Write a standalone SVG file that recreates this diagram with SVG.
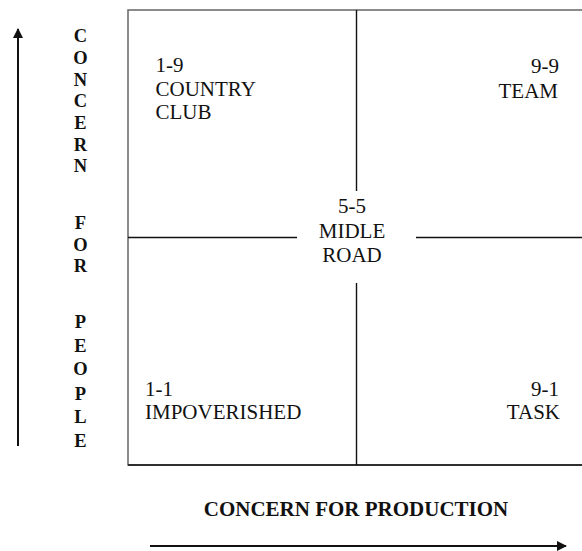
<svg xmlns="http://www.w3.org/2000/svg" width="582" height="551" viewBox="0 0 582 551">
  <style>
    .lbl { font-family: "Liberation Serif", "Times New Roman", serif; font-size: 21px; fill: #111; }
    .axis { font-family: "Liberation Serif", "Times New Roman", serif; font-weight: bold; fill: #111; }
    .frame { fill: none; stroke: #666; stroke-width: 1.5; }
    .div { stroke: #111; stroke-width: 1.4; fill: none; }
    .arrow { stroke: #111; stroke-width: 2; fill: none; }
  </style>
  <defs>
    <marker id="head" viewBox="0 0 10 10" refX="9" refY="5" markerWidth="5" markerHeight="5" orient="auto" markerUnits="strokeWidth">
      <path d="M0,0 L10,5 L0,10 z" fill="#111"/>
    </marker>
  </defs>

  <!-- grid frame and quadrant dividers -->
  <g id="grid">
    <rect class="frame" x="128" y="10" width="470" height="455"/>
    <line x1="128" y1="465" x2="582" y2="465" stroke="#111" stroke-width="1.6"/>
    <line class="div" x1="356.5" y1="10" x2="356.5" y2="191"/>
    <line class="div" x1="356.5" y1="283" x2="356.5" y2="465"/>
    <line class="div" x1="128" y1="237.5" x2="297" y2="237.5"/>
    <line class="div" x1="416" y1="237.5" x2="582" y2="237.5"/>
  </g>

  <!-- axis arrows -->
  <g id="connectors">
    <line class="arrow" x1="18" y1="446" x2="18" y2="29" marker-end="url(#head)"/>
    <line class="arrow" x1="150" y1="546" x2="566" y2="546" marker-end="url(#head)"/>
  </g>

  <g id="country-club">
    <text class="lbl" x="155.5" y="72">1-9</text>
    <text class="lbl" x="155.5" y="95.5">COUNTRY</text>
    <text class="lbl" x="155.5" y="118.5">CLUB</text>
  </g>

  <g id="team">
    <text class="lbl" x="559" y="73" text-anchor="end">9-9</text>
    <text class="lbl" x="558" y="97.5" text-anchor="end">TEAM</text>
  </g>

  <g id="middle-road">
    <text class="lbl" x="352" y="213" text-anchor="middle">5-5</text>
    <text class="lbl" x="352" y="238" text-anchor="middle">MIDLE</text>
    <text class="lbl" x="352" y="262" text-anchor="middle">ROAD</text>
  </g>

  <g id="impoverished">
    <text class="lbl" x="145" y="396">1-1</text>
    <text class="lbl" x="145" y="418.5">IMPOVERISHED</text>
  </g>

  <g id="task">
    <text class="lbl" x="559" y="396" text-anchor="end">9-1</text>
    <text class="lbl" x="560" y="418.5" text-anchor="end">TASK</text>
  </g>

  <!-- vertical axis caption, one letter per line -->
  <g id="people-axis" class="axis" font-size="18.5" text-anchor="middle">
    <text x="80.5" y="42">C</text>
    <text x="80.5" y="64">O</text>
    <text x="80.5" y="85.5">N</text>
    <text x="80.5" y="107">C</text>
    <text x="80.5" y="129">E</text>
    <text x="80.5" y="150.5">R</text>
    <text x="80.5" y="172">N</text>
    <text x="80.5" y="229">F</text>
    <text x="80.5" y="251">O</text>
    <text x="80.5" y="272">R</text>
    <text x="80.5" y="328">P</text>
    <text x="80.5" y="352">E</text>
    <text x="80.5" y="375">O</text>
    <text x="80.5" y="399.5">P</text>
    <text x="80.5" y="423">L</text>
    <text x="80.5" y="447">E</text>
  </g>

  <g id="production-axis">
    <text class="axis" x="356" y="516" font-size="21" text-anchor="middle">CONCERN FOR PRODUCTION</text>
  </g>
</svg>
